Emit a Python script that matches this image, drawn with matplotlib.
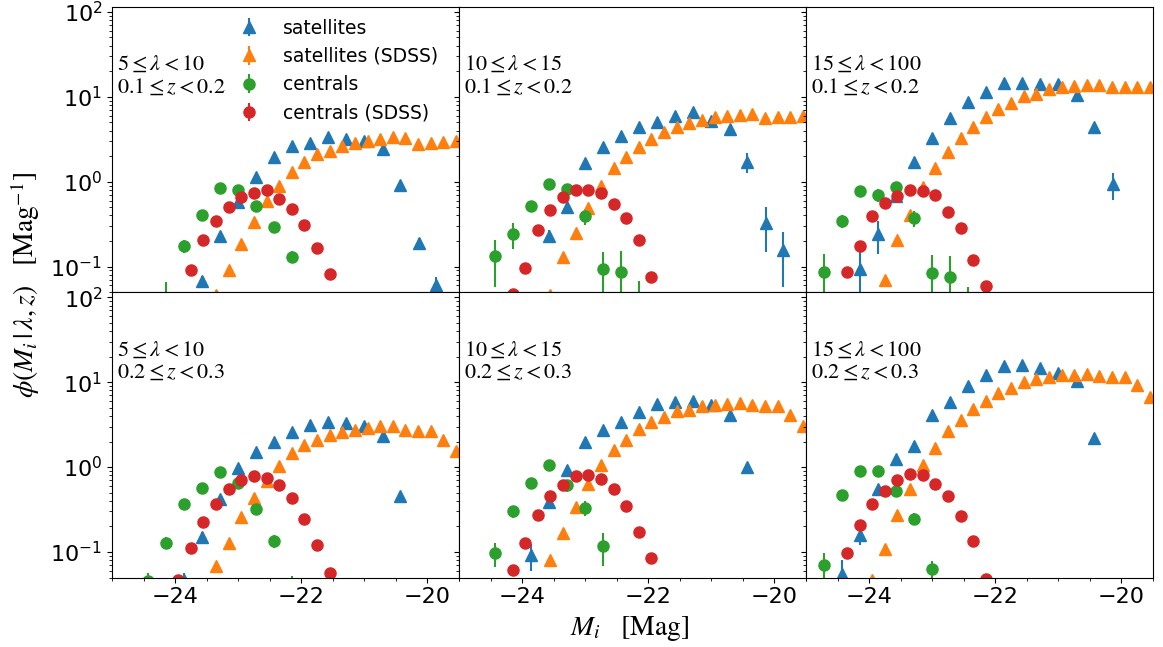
import numpy as np
import matplotlib
matplotlib.use("Agg")
import matplotlib.pyplot as plt
from matplotlib.ticker import MultipleLocator

plt.rcParams['mathtext.fontset'] = 'stix'

n = np.nan

# bin centres in M_i: redMaPPer bins (satellites / centrals) and SDSS bins
mag_bins = [-24.71, -24.43, -24.14, -23.86, -23.57, -23.29, -23.00, -22.71, -22.43,
            -22.14, -21.86, -21.57, -21.29, -21.00, -20.71, -20.43, -20.14, -19.86]
mag_bins_sdss = [-24.35, -24.15, -23.95, -23.75, -23.55, -23.35, -23.15, -22.95, -22.75,
                 -22.55, -22.35, -22.15, -21.95, -21.75, -21.55, -21.35, -21.15, -20.95,
                 -20.75, -20.55, -20.35, -20.15, -19.95, -19.75, -19.55]

lam_labels = [r'5 \leq \lambda < 10', r'10 \leq \lambda < 15', r'15 \leq \lambda < 100']
z_labels = [r'0.1 \leq z < 0.2', r'0.2 \leq z < 0.3']

# panels ordered: (z1, lam1), (z1, lam2), (z1, lam3), (z2, lam1), (z2, lam2), (z2, lam3)
sat_phi = [
    [n, n, n, n, 0.068, 0.232, 0.571, 1.12, 1.93, 2.65, 2.85, 3.32, 3.18, 3.03, 2.42, 0.91, 0.188, 0.061],
    [n, n, n, n, 0.228, 0.499, 1.66, 2.54, 3.48, 4.44, 4.99, 5.87, 6.55, 5.22, 4.17, 1.72, 0.327, 0.158],
    [n, n, 0.094, 0.242, 0.684, 1.69, 3.23, 5.61, 8.57, 11.4, 14.5, 14.5, 14.1, 14.1, 10.5, 4.35, 0.94, n],
    [n, n, n, 0.047, 0.150, 0.424, 0.98, 1.5, 1.97, 2.58, 3.09, 3.38, 3.29, 3.01, 2.3, 0.452, n, n],
    [n, n, n, 0.091, 0.387, 0.914, 1.97, 2.7, 3.38, 4.44, 5.56, 5.82, 6.08, 5.41, 4.05, 1.0, n, n],
    [n, 0.055, 0.157, 0.556, 1.25, 1.75, 4.05, 5.82, 8.97, 12.2, 15.3, 16.0, 14.8, 12.9, 10.2, 2.19, n, n],
]
sat_err = [
    [0, 0, 0, 0, 0.01, 0.02, 0.04, 0.06, 0.08, 0.1, 0.1, 0.12, 0.12, 0.12, 0.12, 0.1, 0.03, 0.015],
    [0, 0, 0, 0, 0.04, 0.07, 0.1, 0.12, 0.15, 0.2, 0.2, 0.25, 0.3, 0.3, 0.3, 0.45, 0.18, 0.1],
    [0, 0, 0.055, 0.1, 0.1, 0.12, 0.15, 0.2, 0.3, 0.4, 0.5, 0.5, 0.5, 0.5, 0.5, 0.4, 0.33, 0],
    [0, 0, 0, 0.01, 0.02, 0.03, 0.05, 0.06, 0.08, 0.1, 0.1, 0.12, 0.12, 0.12, 0.12, 0.05, 0, 0],
    [0, 0, 0, 0.032, 0.04, 0.06, 0.1, 0.12, 0.15, 0.2, 0.2, 0.25, 0.25, 0.25, 0.25, 0.12, 0, 0],
    [0, 0.025, 0.035, 0.05, 0.08, 0.1, 0.15, 0.2, 0.3, 0.4, 0.5, 0.5, 0.5, 0.5, 0.5, 0.2, 0, 0],
]
cen_phi = [
    [n, n, 0.040, 0.173, 0.41, 0.835, 0.805, 0.522, 0.29, 0.131, n, n, n, n, n, n, n, n],
    [n, 0.132, 0.242, 0.513, 0.94, 0.82, 0.391, 0.094, 0.087, 0.035, n, n, n, n, n, n, n, n],
    [0.086, 0.341, 0.769, 0.697, 0.857, 0.374, 0.084, 0.076, 0.035, n, n, n, n, n, n, n, n, n],
    [n, 0.045, 0.129, 0.364, 0.571, 0.873, 0.654, 0.324, 0.135, 0.040, n, n, n, n, n, n, n, n],
    [n, 0.096, 0.3, 0.649, 1.06, 0.608, 0.333, 0.118, n, n, n, n, n, n, n, n, n, n],
    [0.071, 0.464, 0.897, 0.897, 0.522, 0.247, 0.0625, n, n, n, n, n, n, n, n, n, n, n],
]
cen_err = [
    [0, 0, 0.025, 0.03, 0.03, 0.04, 0.04, 0.03, 0.03, 0.02, 0, 0, 0, 0, 0, 0, 0, 0],
    [0, 0.075, 0.08, 0.05, 0.08, 0.06, 0.08, 0.055, 0.065, 0.033, 0, 0, 0, 0, 0, 0, 0, 0],
    [0.055, 0.06, 0.1, 0.12, 0.08, 0.08, 0.053, 0.058, 0.022, 0, 0, 0, 0, 0, 0, 0, 0, 0],
    [0, 0.012, 0.02, 0.03, 0.04, 0.05, 0.05, 0.04, 0.025, 0.012, 0, 0, 0, 0, 0, 0, 0, 0],
    [0, 0.03, 0.05, 0.04, 0.05, 0.1, 0.07, 0.05, 0, 0, 0, 0, 0, 0, 0, 0, 0, 0],
    [0.025, 0.04, 0.05, 0.1, 0.06, 0.04, 0.015, 0, 0, 0, 0, 0, 0, 0, 0, 0, 0, 0],
]
sat_sdss_phi = [
    [n, n, n, n, n, 0.046, 0.090, 0.185, 0.333, 0.597, 0.897, 1.29, 1.69, 2.11, 2.32, 2.65, 2.85,
     3.03, 3.18, 3.38, 3.23, 2.77, 2.85, 2.95, 3.03],
    [n, n, n, n, 0.046, 0.129, 0.249, 0.49, 0.897, 1.44, 1.97, 2.54, 3.18, 3.8, 4.44, 4.9, 5.36,
     5.71, 5.97, 6.14, 6.25, 5.61, 5.71, 5.71, 5.97],
    [n, n, n, 0.0703, 0.208, 0.406, 0.857, 1.44, 2.21, 3.23, 4.35, 5.71, 7.16, 8.35, 10.1, 10.9,
     12.3, 12.9, 13.5, 13.7, 13.7, 13.1, 12.9, 13.1, 13.1],
    [n, n, n, n, n, 0.0684, 0.129, 0.258, 0.436, 0.678, 1.02, 1.46, 1.8, 2.06, 2.36, 2.58, 2.75,
     2.88, 3.01, 3.01, 2.75, 2.65, 2.65, 2.1, 1.54],
    [n, n, n, n, 0.0813, 0.168, 0.339, 0.625, 1.05, 1.57, 2.11, 2.77, 3.38, 3.94, 4.52, 4.73, 5.18,
     5.41, 5.56, 5.66, 5.41, 5.22, 5.18, 4.13, 3.01],
    [n, n, 0.047, 0.107, 0.27, 0.556, 1.06, 1.68, 2.63, 3.6, 4.85, 6.08, 7.42, 8.58, 10.0, 10.9,
     11.4, 12.0, 12.2, 12.5, 11.8, 11.4, 11.4, 9.3, 6.67],
]
cen_sdss_phi = [
    [n, n, n, 0.092, 0.208, 0.341, 0.499, 0.667, 0.736, 0.798, 0.625, 0.477, 0.312, 0.166, 0.082,
     n, n, n, n, n, n, n, n, n, n],
    [n, 0.047, 0.097, 0.272, 0.469, 0.654, 0.798, 0.798, 0.736, 0.546, 0.371, 0.206, 0.075,
     n, n, n, n, n, n, n, n, n, n, n, n],
    [0.0857, 0.173, 0.391, 0.556, 0.671, 0.798, 0.769, 0.697, 0.444, 0.282, 0.118, 0.0587,
     n, n, n, n, n, n, n, n, n, n, n, n, n],
    [n, n, 0.047, 0.11, 0.225, 0.371, 0.556, 0.71, 0.783, 0.75, 0.608, 0.432, 0.247, 0.122, 0.057,
     n, n, n, n, n, n, n, n, n, n],
    [n, 0.0608, 0.129, 0.275, 0.456, 0.62, 0.776, 0.798, 0.73, 0.556, 0.348, 0.172, 0.0849,
     n, n, n, n, n, n, n, n, n, n, n, n],
    [0.0973, 0.206, 0.371, 0.517, 0.71, 0.82, 0.798, 0.625, 0.456, 0.263, 0.133, 0.048,
     n, n, n, n, n, n, n, n, n, n, n, n, n],
]

fig, axes = plt.subplots(2, 3, figsize=(11.63, 6.47), dpi=100, sharex=True, sharey=True)
fig.subplots_adjust(left=0.0963, right=0.9914, top=0.9896, bottom=0.1074,
                    wspace=0, hspace=0)

zero_sdss = np.zeros(len(mag_bins_sdss))
kw = dict(ms=8, elinewidth=1.5, capsize=0)

for i, ax in enumerate(axes.flat):
    ax.errorbar(mag_bins, sat_phi[i], yerr=sat_err[i], fmt='^', color='C0',
                label='satellites', **kw)
    ax.errorbar(mag_bins_sdss, sat_sdss_phi[i], yerr=zero_sdss, fmt='^', color='C1',
                label='satellites (SDSS)', **kw)
    ax.errorbar(mag_bins, cen_phi[i], yerr=cen_err[i], fmt='o', color='C2',
                label='centrals', **kw)
    ax.errorbar(mag_bins_sdss, cen_sdss_phi[i], yerr=zero_sdss, fmt='o', color='C3',
                label='centrals (SDSS)', **kw)

    ax.set_yscale('log')
    ax.set_xlim(-25, -19.5)
    ax.set_ylim(0.05, 115)
    ax.xaxis.set_major_locator(MultipleLocator(2))
    ax.xaxis.set_minor_locator(MultipleLocator(0.5))
    ax.tick_params(labelsize=16)

    ax.text(0.013, 0.835, '$' + lam_labels[i % 3] + '$\n$' + z_labels[i // 3] + '$',
            transform=ax.transAxes, fontsize=16, ha='left', va='top', linespacing=1.15)

axes[0, 0].legend(loc='upper left', bbox_to_anchor=(0.32, 0.985), frameon=False,
                  fontsize=13.5, borderaxespad=0)

fig.text(0.541, 0.029, r'$M_i\quad[\mathrm{Mag}]$', fontsize=20, ha='center', va='center')
fig.text(0.022, 0.56, r'$\phi(M_i\,|\,\lambda, z)\quad[\mathrm{Mag}^{-1}]$', fontsize=20,
         rotation=90, ha='center', va='center')

fig.savefig('out.png', dpi=100)
